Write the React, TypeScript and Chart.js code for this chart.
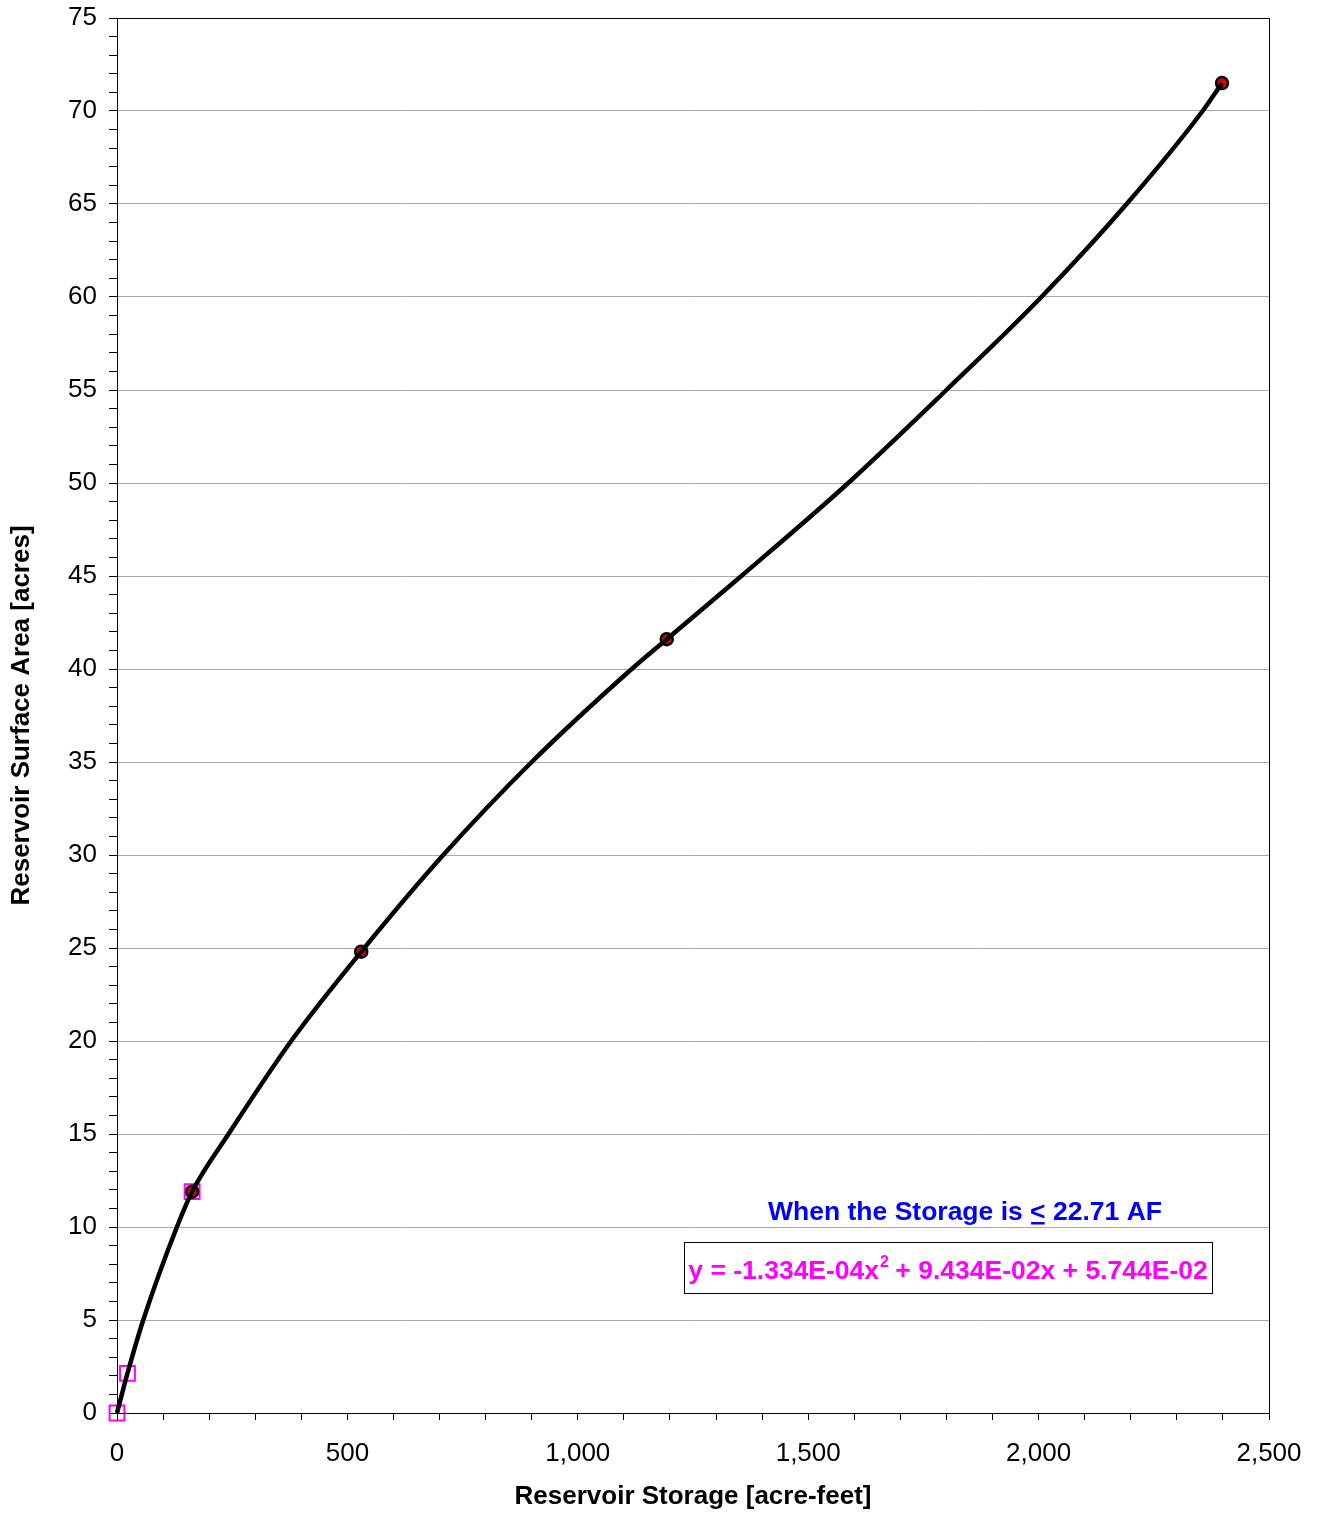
import React, { useEffect, useRef } from "react";
import { Chart, registerables } from "chart.js";

Chart.register(...registerables);

// Curve (storage in acre-feet, area in acres)
const curveStorage = [0, 22.71, 57, 130, 163, 242, 378, 530, 708, 900, 1117, 1193, 1355, 1587, 1800, 2006, 2191, 2356, 2398];
const curveArea = [0, 2.13, 5, 10, 11.9, 15, 20, 24.8, 30, 35, 40, 41.6, 45, 50, 55, 60, 65, 70, 71.5];

// Surveyed points (red circles)
const surveyStorage = [163, 530, 1193, 2398];
const surveyArea = [11.9, 24.8, 41.6, 71.5];

// Low-storage points (magenta squares)
const lowStorage = [0, 22.71, 163];
const lowArea = [0, 2.13, 11.9];

const xLabelEvery = 500;
const yLabelEvery = 5;

const xTitle = "Reservoir Storage [acre-feet]";
const yTitle = "Reservoir Surface Area [acres]";
const noteBefore = "When the Storage is ";
const noteSymbol = "<";
const noteAfter = " 22.71 AF";
const eqPart1 = "y = -1.334E-04x";
const eqSup = "2";
const eqPart2 = " + 9.434E-02x + 5.744E-02";

const FONT = '"Liberation Sans", Arial, sans-serif';

const toPoints = (xs: number[], ys: number[]) => xs.map((x, i) => ({ x, y: ys[i] }));

const framePlugin = {
  id: "frameAndNotes",
  afterDraw(chart: any) {
    const { ctx, chartArea: a } = chart;
    ctx.save();
    // plot frame
    ctx.strokeStyle = "#000";
    ctx.lineWidth = 1;
    ctx.strokeRect(Math.round(a.left) + 0.5, Math.round(a.top) + 0.5, Math.round(a.right - a.left), Math.round(a.bottom - a.top));

    // note line
    ctx.font = `bold 26.5px ${FONT}`;
    ctx.fillStyle = "#0000ff";
    ctx.textBaseline = "alphabetic";
    ctx.textAlign = "left";
    const w1 = ctx.measureText(noteBefore).width;
    const w2 = ctx.measureText(noteSymbol).width;
    const w3 = ctx.measureText(noteAfter).width;
    const noteCx = 965;
    const noteBase = 1220;
    const nx = noteCx - (w1 + w2 + w3) / 2;
    ctx.fillText(noteBefore, nx, noteBase);
    ctx.fillText(noteSymbol, nx + w1, noteBase);
    ctx.fillRect(nx + w1 + 1, noteBase + 2, w2 - 2, 2.5);
    ctx.fillText(noteAfter, nx + w1 + w2, noteBase);

    // equation box
    const bx = 684, by = 1242, bw = 528, bh = 51;
    ctx.fillStyle = "#fff";
    ctx.fillRect(bx, by, bw, bh);
    ctx.strokeStyle = "#000";
    ctx.lineWidth = 1;
    ctx.strokeRect(bx + 0.5, by + 0.5, bw, bh);

    ctx.fillStyle = "#ff00ff";
    ctx.font = `bold 26.5px ${FONT}`;
    const e1 = ctx.measureText(eqPart1).width;
    const e3 = ctx.measureText(eqPart2).width;
    ctx.font = `bold 16px ${FONT}`;
    const e2 = ctx.measureText(eqSup).width;
    const eqBase = 1279;
    const ex = bx + bw / 2 - (e1 + e2 + e3) / 2;
    ctx.font = `bold 26.5px ${FONT}`;
    ctx.fillText(eqPart1, ex, eqBase);
    ctx.font = `bold 16px ${FONT}`;
    ctx.fillText(eqSup, ex + e1 + 1, eqBase - 12);
    ctx.font = `bold 26.5px ${FONT}`;
    ctx.fillText(eqPart2, ex + e1 + e2, eqBase);
    ctx.restore();
  },
};

export default function App() {
  const ref = useRef<HTMLCanvasElement | null>(null);

  useEffect(() => {
    if (!ref.current) return;
    const chart = new Chart(ref.current, {
      type: "scatter",
      data: {
        datasets: [
          {
            label: "Curve",
            data: toPoints(curveStorage, curveArea),
            showLine: true,
            borderColor: "#000",
            borderWidth: 4.5,
            pointRadius: 0,
            cubicInterpolationMode: "monotone",
            clip: false,
          } as any,
          {
            label: "Survey",
            data: toPoints(surveyStorage, surveyArea),
            showLine: false,
            pointRadius: 6,
            pointBackgroundColor: "#e00000",
            pointBorderColor: "#000",
            pointBorderWidth: 2.5,
            clip: false,
          } as any,
          {
            label: "Low",
            data: toPoints(lowStorage, lowArea),
            showLine: false,
            pointStyle: "rect",
            pointRadius: 10.5,
            pointBackgroundColor: "rgba(0,0,0,0)",
            pointBorderColor: "#ff00ff",
            pointBorderWidth: 2,
            clip: false,
          } as any,
        ],
      },
      options: {
        animation: false,
        responsive: false,
        events: [],
        layout: { padding: { top: 18, right: 50, left: 0, bottom: 0 } },
        plugins: {
          legend: { display: false },
          tooltip: { enabled: false },
        },
        scales: {
          x: {
            type: "linear",
            min: 0,
            max: 2500,
            afterFit: (s: any) => {
              s.height = 100;
              s.paddingLeft = 0;
              s.paddingRight = 0;
            },
            ticks: {
              stepSize: 100,
              autoSkip: false,
              maxRotation: 0,
              color: "#000",
              font: { size: 26, family: FONT },
              padding: 18,
              callback: (v: any) => (Number(v) % xLabelEvery === 0 ? Number(v).toLocaleString("en-US") : ""),
            },
            grid: { drawOnChartArea: false, tickColor: "#000", tickLength: 7 },
            border: { color: "#000", width: 1 },
            title: {
              display: true,
              text: xTitle,
              color: "#000",
              font: { size: 26, weight: "bold", family: FONT },
              padding: { top: 0, bottom: 1 },
            },
          },
          y: {
            type: "linear",
            min: 0,
            max: 75,
            afterFit: (s: any) => {
              s.width = 117;
              s.paddingTop = 0;
              s.paddingBottom = 0;
            },
            ticks: {
              stepSize: 1,
              autoSkip: false,
              color: "#000",
              font: { size: 26, family: FONT },
              padding: 12,
              callback: (v: any) => (Number(v) % yLabelEvery === 0 ? String(v) : ""),
            },
            grid: {
              color: (c: any) => (c.tick && c.tick.value % yLabelEvery === 0 ? "#a8a8a8" : "rgba(0,0,0,0)"),
              tickColor: "#000",
              tickLength: 8,
              lineWidth: 1,
            },
            border: { color: "#000", width: 1 },
            title: {
              display: true,
              text: yTitle,
              color: "#000",
              font: { size: 26, weight: "bold", family: FONT },
              padding: { top: 6, bottom: 0 },
            },
          },
        },
      } as any,
      plugins: [framePlugin],
    });
    return () => chart.destroy();
  }, []);

  return (
    <div style={{ position: "absolute", left: 0, top: 0, width: 1319, height: 1513, background: "#fff" }}>
      <canvas ref={ref} width={1319} height={1513} style={{ width: 1319, height: 1513, display: "block" }} />
    </div>
  );
}
